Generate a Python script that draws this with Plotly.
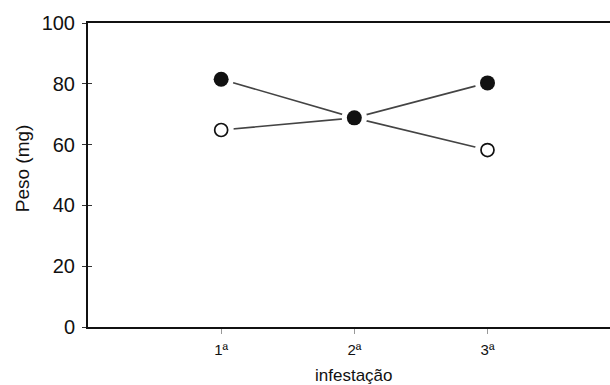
import plotly.graph_objects as go

categories = ["1ª", "2ª", "3ª"]
x_pos = [1, 2, 3]
filled_values = [81.5, 68.8, 80.3]
open_values = [64.8, 68.8, 58.2]
y_ticks = [0, 20, 40, 60, 80, 100]

fig = go.Figure()
line_style = dict(color="#444", width=1.6)
fig.add_trace(go.Scatter(x=x_pos, y=open_values, mode="lines", line=line_style, showlegend=False))
fig.add_trace(go.Scatter(x=x_pos, y=filled_values, mode="lines", line=line_style, showlegend=False))
# white halos to create gaps around markers
fig.add_trace(go.Scatter(x=x_pos, y=open_values, mode="markers",
                         marker=dict(size=25, color="white"), showlegend=False))
fig.add_trace(go.Scatter(x=x_pos, y=filled_values, mode="markers",
                         marker=dict(size=25, color="white"), showlegend=False))
fig.add_trace(go.Scatter(x=[x_pos[0], x_pos[2]], y=[open_values[0], open_values[2]], mode="markers",
                         marker=dict(size=13, color="white", line=dict(color="#111", width=1.7)),
                         showlegend=False))
fig.add_trace(go.Scatter(x=x_pos, y=filled_values, mode="markers",
                         marker=dict(size=15, color="#111"), showlegend=False))
fig.add_trace(go.Scatter(x=[None], y=[None], yaxis="y2", showlegend=False))

fig.update_layout(
    width=610, height=385,
    margin=dict(l=88, r=0, t=23, b=58),
    paper_bgcolor="white", plot_bgcolor="white",
    font=dict(family="Liberation Sans, Arial, sans-serif", color="#111"),
    xaxis=dict(range=[0, 3.92], tickvals=x_pos, ticktext=categories, automargin=False,
               showgrid=False, zeroline=False, showline=True, linecolor="#111", linewidth=2,
               mirror=True, ticks="outside", ticklen=5, tickwidth=1, tickcolor="#999",
               tickfont=dict(size=15), ticklabelstandoff=3),
    yaxis=dict(range=[0, 100], tickvals=y_ticks, showgrid=False, zeroline=False, automargin=False,
               showline=True, linecolor="#111", linewidth=2,
               ticks="outside", ticklen=4, tickwidth=1.2, tickcolor="#333",
               tickfont=dict(size=20), ticklabelstandoff=3),
    yaxis2=dict(range=[0, 100], tickvals=y_ticks, overlaying="y", showticklabels=False,
                showgrid=False, zeroline=False, ticks="inside", ticklen=4, tickwidth=1.2,
                tickcolor="#333", side="left", automargin=False),
    annotations=[
        dict(text="Peso (mg)", xref="paper", yref="paper", x=-0.126, y=0.523,
             xanchor="center", yanchor="middle", textangle=-90, showarrow=False,
             font=dict(size=19)),
        dict(text="infestação", xref="paper", yref="paper", x=0.51, y=-0.158,
             xanchor="center", yanchor="middle", showarrow=False,
             font=dict(size=17)),
    ],
)

fig.write_html("out.html", config={"displayModeBar": False},
               post_script="document.body.style.margin='0';document.body.style.overflow='hidden';")
